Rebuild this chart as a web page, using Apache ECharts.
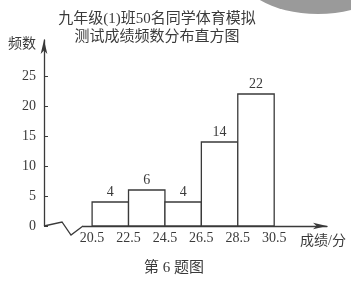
<!DOCTYPE html>
<html>
<head>
<meta charset="utf-8">
<script src="https://cdn.jsdelivr.net/npm/echarts@6/dist/echarts.min.js"></script>
<style>
  html, body { margin: 0; padding: 0; background: #fff; }
  #main { width: 351px; height: 286px; }
</style>
</head>
<body>
<div id="main"></div>
<script>
// 分组边界和频数
var binEdges = [20.5, 22.5, 24.5, 26.5, 28.5, 30.5];
var freqs = [4, 6, 4, 14, 22];
var yTicks = [0, 5, 10, 15, 20, 25];

var serif = '"Liberation Serif", "Noto Sans CJK SC", serif';
var ink = '#3a3a3a';

var chart = echarts.init(document.getElementById('main'), null, { renderer: 'canvas' });

var bars = freqs.map(function (f, i) {
  return [binEdges[i], binEdges[i + 1], f];
});

var option = {
  backgroundColor: '#ffffff',
  animation: false,
  title: {
    text: '九年级(1)班50名同学体育模拟\n测试成绩频数分布直方图',
    left: 152,
    top: 5,
    textAlign: 'center',
    textStyle: {
      fontFamily: serif,
      fontSize: 15,
      fontWeight: 'normal',
      color: ink,
      lineHeight: 18
    }
  },
  graphic: [
    // 扫描图右上角的灰色阴影
    {
      type: 'ellipse',
      shape: { cx: 318, cy: -28, rx: 78, ry: 42 },
      style: { fill: '#9a9a9a' },
      z: -1
    },
    {
      type: 'text',
      left: 8,
      top: 37,
      style: { text: '频数', font: '14px ' + serif, fill: ink }
    },
    {
      type: 'text',
      left: 300,
      top: 234,
      style: { text: '成绩/分', font: '14px ' + serif, fill: ink }
    },
    {
      type: 'text',
      left: 144,
      top: 261,
      style: { text: '第 6 题图', font: '15px ' + serif, fill: ink }
    }
  ],
  grid: {
    left: 83,
    right: 351 - 327,
    top: 40,
    bottom: 286 - 226
  },
  xAxis: {
    type: 'value',
    min: 20,
    max: 33.4,
    axisLine: {
      show: true,
      symbol: ['none', 'arrow'],
      symbolSize: [5, 14],
      lineStyle: { color: ink, width: 1.3 }
    },
    axisTick: { show: false },
    splitLine: { show: false },
    axisLabel: {
      customValues: binEdges,
      formatter: function (v) { return v.toFixed(1); },
      fontFamily: serif,
      fontSize: 14,
      color: ink,
      margin: 5
    }
  },
  yAxis: {
    type: 'value',
    min: 0,
    max: 31,
    offset: 39,
    axisLine: {
      show: true,
      symbol: ['none', 'arrow'],
      symbolSize: [5, 14],
      lineStyle: { color: ink, width: 1.3 }
    },
    axisTick: {
      show: true,
      inside: true,
      length: 4,
      customValues: yTicks,
      lineStyle: { color: ink }
    },
    splitLine: { show: false },
    axisLabel: {
      customValues: yTicks,
      fontFamily: serif,
      fontSize: 14,
      color: ink,
      margin: 8
    }
  },
  series: [
    {
      type: 'custom',
      clip: false,
      data: bars,
      renderItem: function (params, api) {
        var p0 = api.coord([api.value(0), api.value(2)]);
        var p1 = api.coord([api.value(1), 0]);
        return {
          type: 'rect',
          shape: { x: p0[0], y: p0[1], width: p1[0] - p0[0], height: p1[1] - p0[1] },
          style: { fill: '#fff', stroke: ink, lineWidth: 1.3 },
          textContent: {
            style: {
              text: String(api.value(2)),
              font: '14px ' + serif,
              fill: ink
            }
          },
          textConfig: { position: 'top', distance: 2 }
        };
      },
      encode: { x: [0, 1], y: 2 }
    },
    {
      // 坐标轴折断线
      type: 'custom',
      clip: false,
      silent: true,
      data: [[20, 0]],
      renderItem: function (params, api) {
        var o = api.coord([api.value(0), api.value(1)]);
        return {
          type: 'polyline',
          shape: {
            points: [
              [o[0] - 39, o[1]],
              [o[0] - 21, o[1] - 4],
              [o[0] - 12, o[1] + 9],
              [o[0], o[1]]
            ]
          },
          style: { fill: 'none', stroke: ink, lineWidth: 1.3 }
        };
      }
    }
  ]
};

chart.setOption(option);
</script>
</body>
</html>
